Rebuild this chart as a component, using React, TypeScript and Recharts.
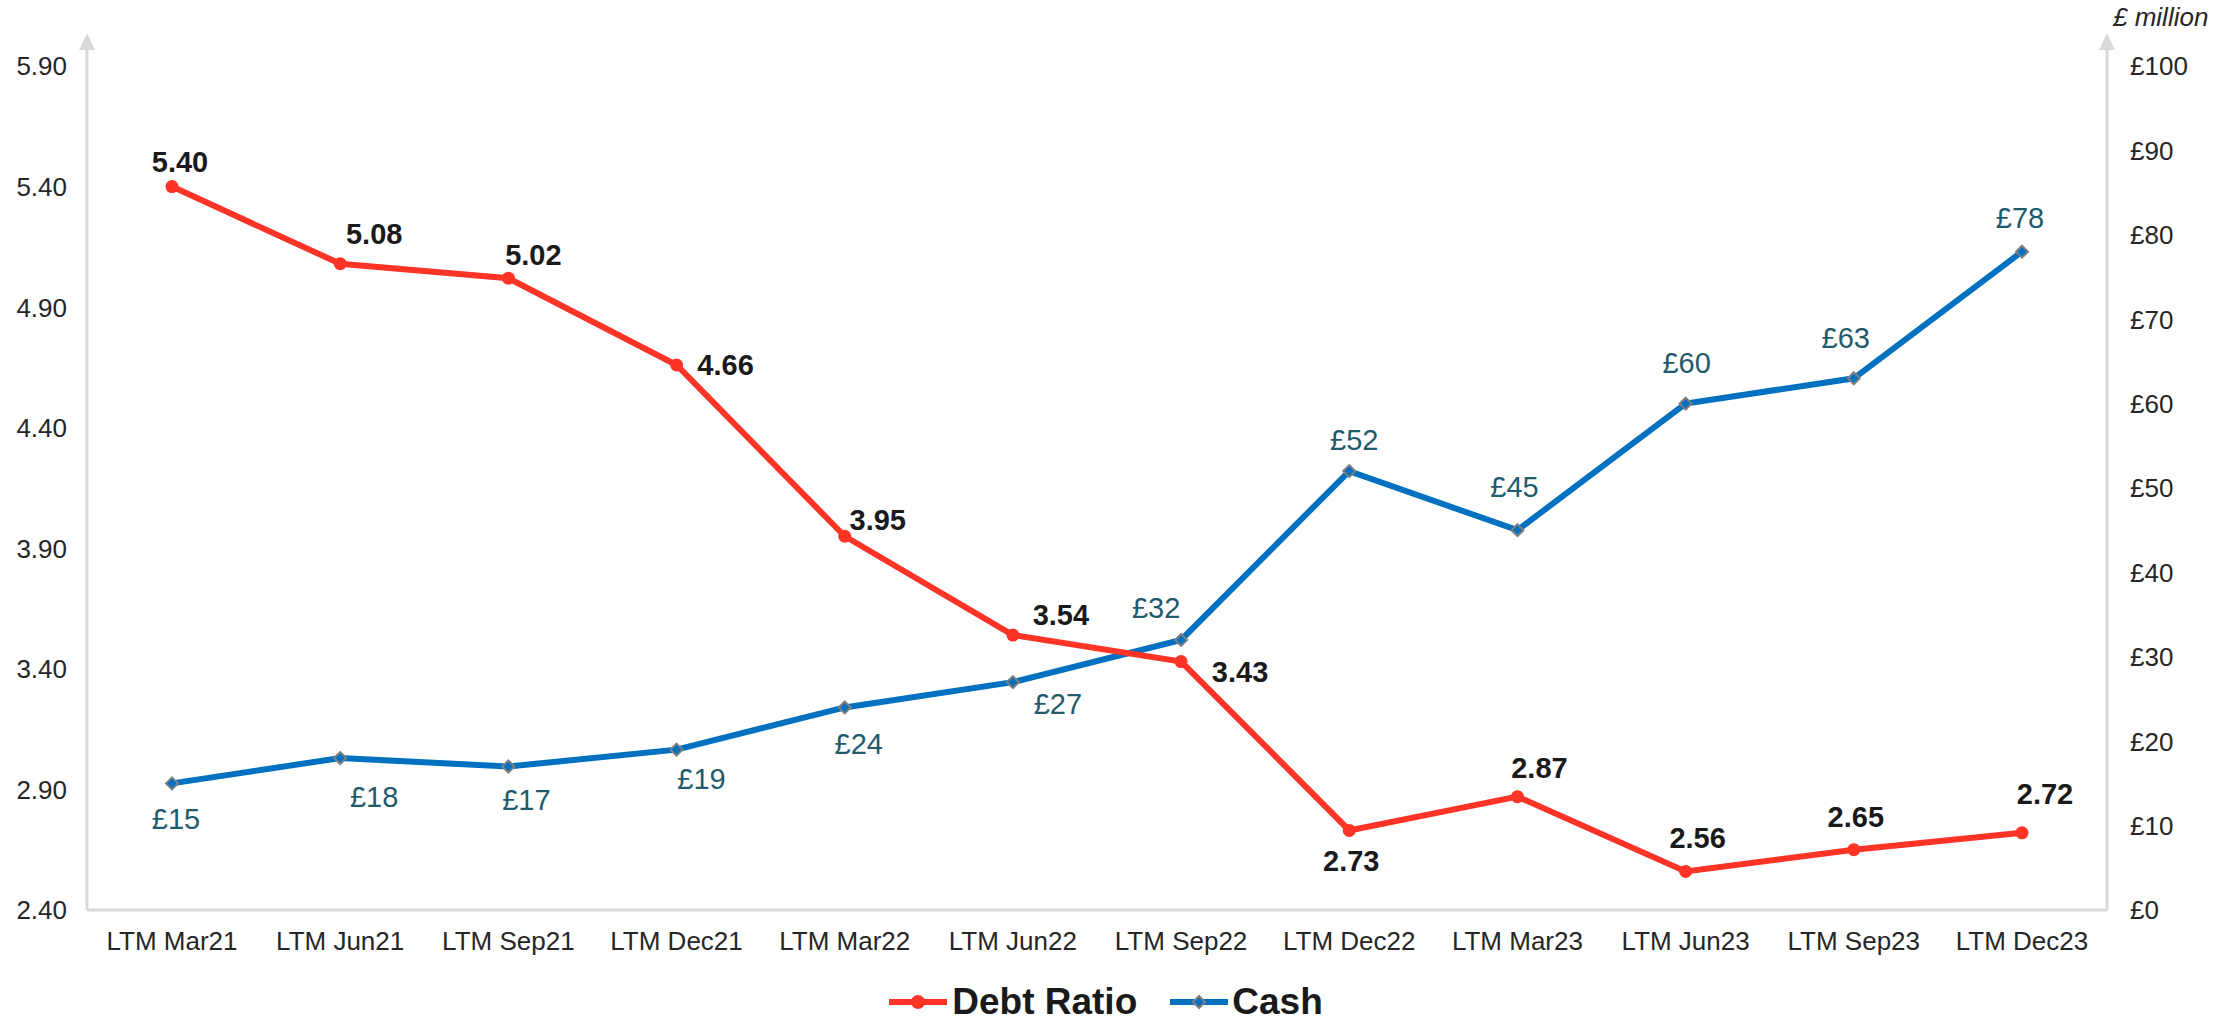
import React from 'react';
import { ComposedChart, Line, XAxis, YAxis, Legend, LabelList } from 'recharts';

const categories = [
  'LTM Mar21', 'LTM Jun21', 'LTM Sep21', 'LTM Dec21', 'LTM Mar22', 'LTM Jun22',
  'LTM Sep22', 'LTM Dec22', 'LTM Mar23', 'LTM Jun23', 'LTM Sep23', 'LTM Dec23',
];
const debtRatio = [5.4, 5.08, 5.02, 4.66, 3.95, 3.54, 3.43, 2.73, 2.87, 2.56, 2.65, 2.72];
const cashValues = [15, 18, 17, 19, 24, 27, 32, 52, 45, 60, 63, 78];
const leftTicks = [2.4, 2.9, 3.4, 3.9, 4.4, 4.9, 5.4, 5.9];
const rightTicks = [0, 10, 20, 30, 40, 50, 60, 70, 80, 90, 100];

const data = categories.map((label, i) => ({ label, debt: debtRatio[i], cash: cashValues[i] }));

// label placement relative to each point (dx, dy of label centre)
const debtLabelOffsets = [
  [8, -25], [34, -30], [25, -24], [49, 0], [33, -17], [48, -21],
  [59, 10], [2, 30], [22, -29], [12, -34], [2, -33], [23, -39],
];
const cashLabelOffsets = [
  [4, 35], [34, 38], [18, 33], [25, 29], [14, 36], [45, 21],
  [-25, -32], [5, -32], [-3, -44], [1, -41], [-8, -41], [-2, -34],
];

const FONT = '"Liberation Sans", Arial, Helvetica, sans-serif';
const RED = '#ff3427';
const BLUE = '#0070c0';
const AXIS = '#d9d9d9';
const TICK_COLOR = '#262626';
const CASH_LABEL = '#1f5b6c';
const LEFT_MARGIN = 20;
const RIGHT_MARGIN = 23;

const Arrow = ({ ax, y }: { ax: number; y: number }) => (
  <g>
    <line x1={ax} y1={y} x2={ax} y2={y - 18} stroke={AXIS} strokeWidth={3} />
    <polygon points={`${ax - 8},${y - 16} ${ax + 8},${y - 16} ${ax},${y - 33}`} fill={AXIS} />
  </g>
);

const LeftTick = (props: any) => {
  const { x, y, payload } = props;
  const isTop = payload.value === leftTicks[leftTicks.length - 1];
  return (
    <g>
      {isTop && <Arrow ax={x + LEFT_MARGIN} y={y} />}
      <text x={x} y={y} dy="0.36em" textAnchor="end" fontSize={26} fontFamily={FONT} fill={TICK_COLOR}>
        {payload.value.toFixed(2)}
      </text>
    </g>
  );
};

const RightTick = (props: any) => {
  const { x, y, payload } = props;
  const isTop = payload.value === rightTicks[rightTicks.length - 1];
  return (
    <g>
      {isTop && <Arrow ax={x - RIGHT_MARGIN} y={y} />}
      {isTop && (
        <text x={x - RIGHT_MARGIN + 6} y={y - 49} dy="0.36em" textAnchor="start" fontSize={26}
          fontStyle="italic" fontFamily={FONT} fill={TICK_COLOR}>
          £ million
        </text>
      )}
      <text x={x} y={y} dy="0.36em" textAnchor="start" fontSize={26} fontFamily={FONT} fill={TICK_COLOR}>
        {`£${payload.value}`}
      </text>
    </g>
  );
};

const DebtDot = (props: any) => {
  const { cx, cy, index } = props;
  if (cx == null || cy == null) return <g key={`d${index}`} />;
  return <circle key={`d${index}`} cx={cx} cy={cy} r={6.5} fill={RED} />;
};

const CashDot = (props: any) => {
  const { cx, cy, index } = props;
  if (cx == null || cy == null) return <g key={`c${index}`} />;
  const s = 6;
  return (
    <polygon key={`c${index}`} points={`${cx},${cy - s} ${cx + s},${cy} ${cx},${cy + s} ${cx - s},${cy}`}
      fill={BLUE} stroke="#7f7f7f" strokeWidth={2} />
  );
};

const DebtLabel = (props: any) => {
  const { x, y, value, index } = props;
  const [dx, dy] = debtLabelOffsets[index] || [0, -25];
  return (
    <text x={x + dx} y={y + dy} dy="0.36em" textAnchor="middle" fontSize={29} fontWeight="bold"
      fontFamily={FONT} fill="#1a1a1a">
      {Number(value).toFixed(2)}
    </text>
  );
};

const CashLabel = (props: any) => {
  const { x, y, value, index } = props;
  const [dx, dy] = cashLabelOffsets[index] || [0, -30];
  return (
    <text x={x + dx} y={y + dy} dy="0.36em" textAnchor="middle" fontSize={29}
      fontFamily={FONT} fill={CASH_LABEL}>
      {`£${value}`}
    </text>
  );
};

const LegendContent = () => (
  <div style={{ display: 'flex', justifyContent: 'center', alignItems: 'center', height: 60,
    boxSizing: 'border-box', paddingTop: 24, marginLeft: -24, fontFamily: FONT, lineHeight: '36px' }}>
    <div style={{ display: 'flex', alignItems: 'center', marginRight: 33 }}>
      <svg width={58} height={20} style={{ marginRight: 5 }}>
        <line x1={1} y1={10} x2={57} y2={10} stroke={RED} strokeWidth={6} strokeLinecap="round" />
        <circle cx={29} cy={10} r={7} fill={RED} />
      </svg>
      <span style={{ fontSize: 37, fontWeight: 'bold', color: '#1a1a1a' }}>Debt Ratio</span>
    </div>
    <div style={{ display: 'flex', alignItems: 'center' }}>
      <svg width={58} height={20} style={{ marginRight: 4 }}>
        <line x1={1} y1={10} x2={57} y2={10} stroke={BLUE} strokeWidth={6} strokeLinecap="round" />
        <polygon points="29,4 35,10 29,16 23,10" fill={BLUE} stroke="#7f7f7f" strokeWidth={2} />
      </svg>
      <span style={{ fontSize: 37, fontWeight: 'bold', color: '#1a1a1a' }}>Cash</span>
    </div>
  </div>
);

export default function App() {
  return (
    <div style={{ position: 'absolute', left: 0, top: 0, width: 2236, height: 1020, background: '#fff' }}>
      <ComposedChart width={2236} height={1020} data={data} margin={{ top: 66, right: 0, bottom: 0, left: 0 }}>
        <XAxis dataKey="label" height={50} padding={{ left: 85, right: 85 }}
          axisLine={{ stroke: AXIS, strokeWidth: 3 }} tickLine={false} tickSize={0} tickMargin={22}
          tick={{ fontSize: 26, fill: TICK_COLOR, fontFamily: FONT }} interval={0} />
        <YAxis yAxisId="left" orientation="left" width={87} domain={[2.4, 5.9]} ticks={leftTicks}
          type="number" allowDataOverflow axisLine={{ stroke: AXIS, strokeWidth: 3 }} tickLine={false}
          tickSize={0} tickMargin={LEFT_MARGIN} tick={<LeftTick />} interval={0} />
        <YAxis yAxisId="right" orientation="right" width={129} domain={[0, 100]} ticks={rightTicks}
          type="number" allowDataOverflow axisLine={{ stroke: AXIS, strokeWidth: 3 }} tickLine={false}
          tickSize={0} tickMargin={RIGHT_MARGIN} tick={<RightTick />} interval={0} />
        <Legend verticalAlign="bottom" height={60} content={<LegendContent />} />
        <Line yAxisId="right" dataKey="cash" type="linear" stroke={BLUE} strokeWidth={6}
          dot={<CashDot />} activeDot={false} isAnimationActive={false}>
          <LabelList dataKey="cash" content={<CashLabel />} />
        </Line>
        <Line yAxisId="left" dataKey="debt" type="linear" stroke={RED} strokeWidth={6}
          dot={<DebtDot />} activeDot={false} isAnimationActive={false}>
          <LabelList dataKey="debt" content={<DebtLabel />} />
        </Line>
      </ComposedChart>
    </div>
  );
}
